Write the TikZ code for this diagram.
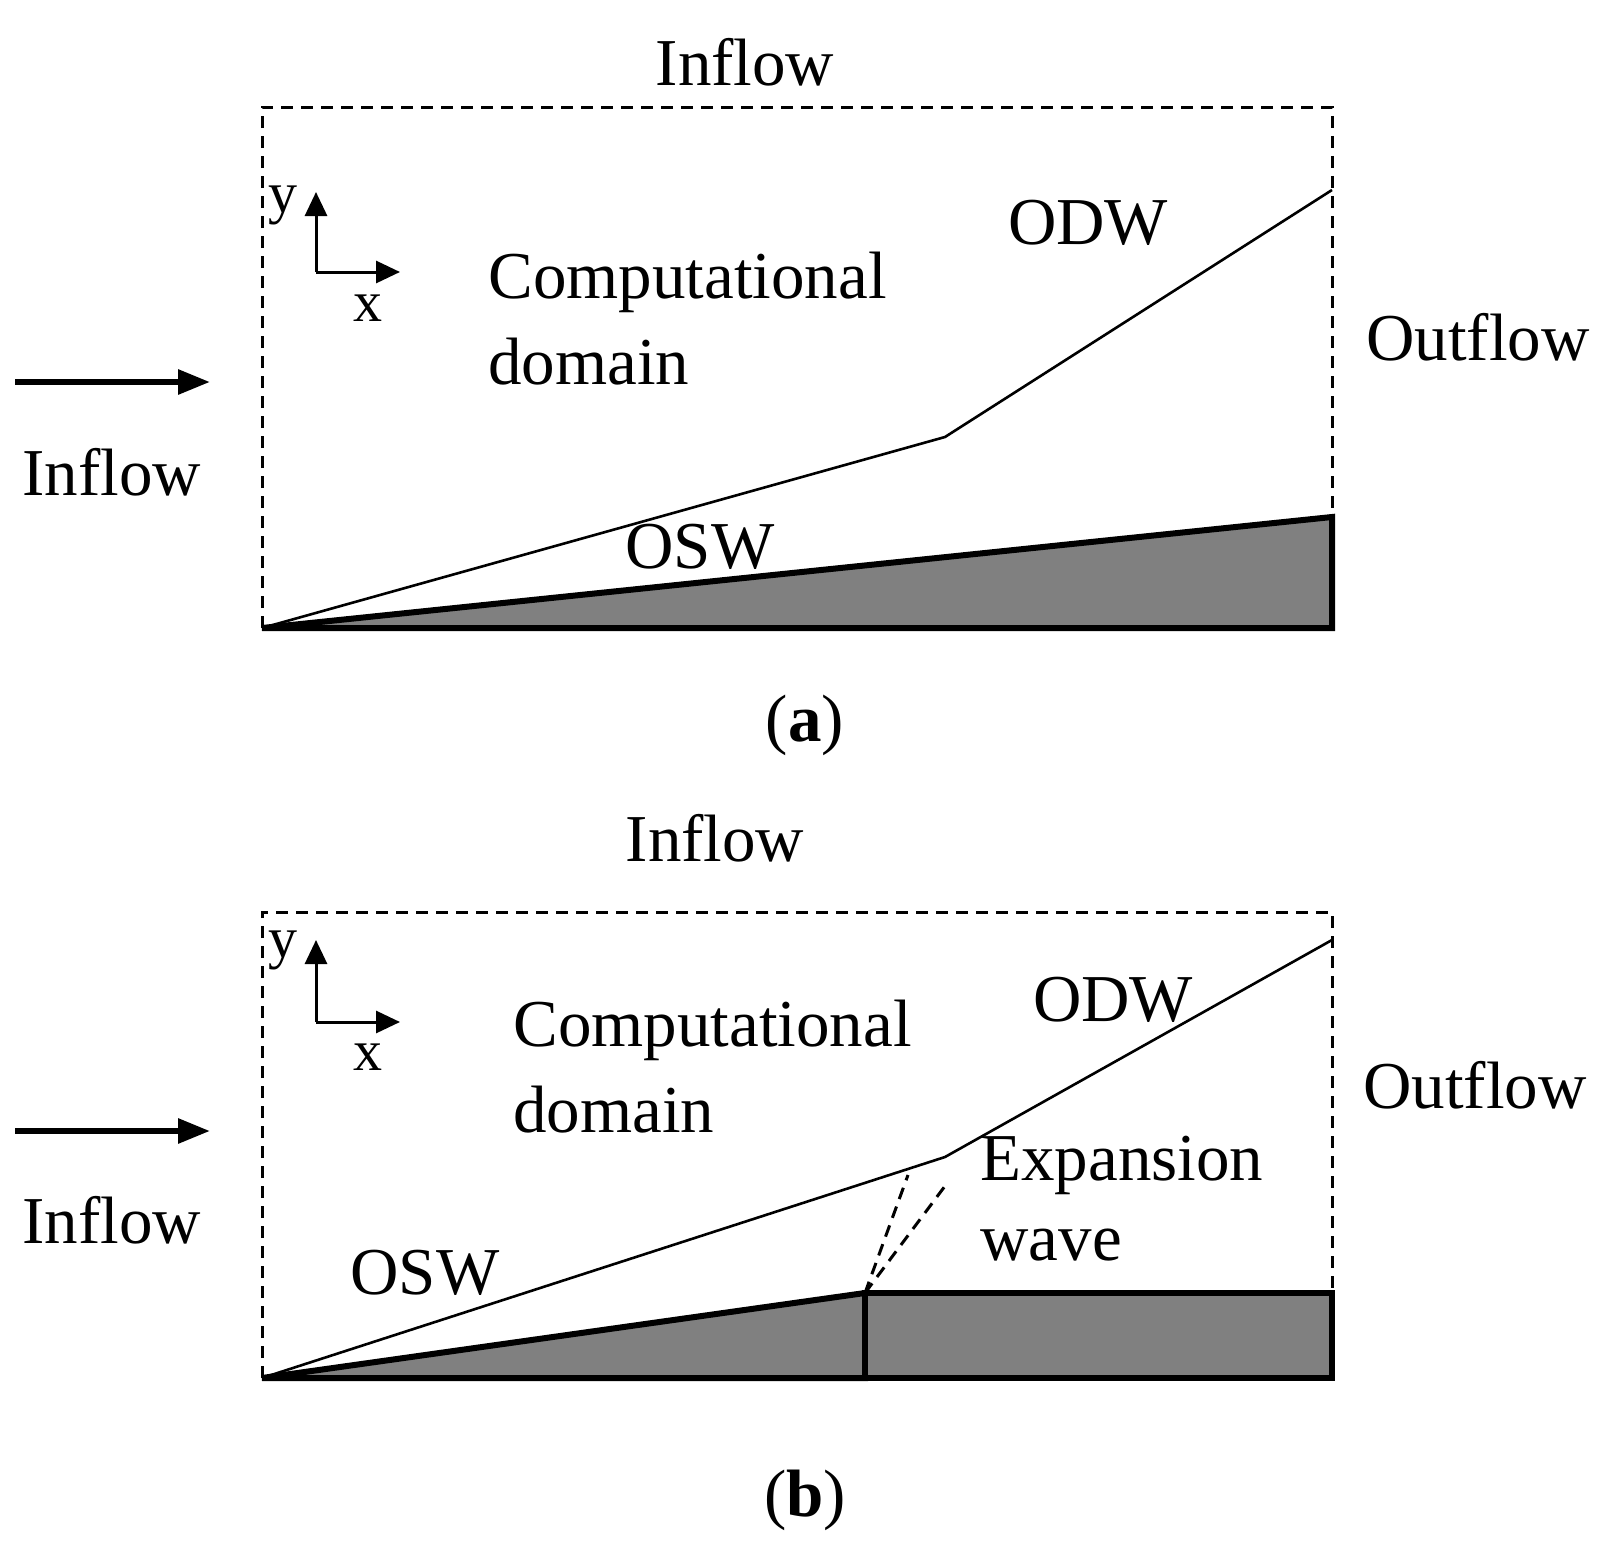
\documentclass[tikz,border=0pt]{standalone}
\usepackage{fontspec}
\setmainfont{Liberation Serif}
\usetikzlibrary{arrows.meta}
\begin{document}
\begin{tikzpicture}[x=0.5pt,y=-0.5pt,
 lbl/.style={font=\fontsize{33.5}{36}\selectfont,inner sep=0},
 sm/.style={font=\fontsize{29}{30}\selectfont,inner sep=0},
 box/.style={line width=1.5pt,dash pattern=on 6pt off 4pt},
 wall/.style={line width=3pt,fill=gray},
 shock/.style={line width=1.3pt},
 big/.style={line width=3pt,-{Triangle[length=16pt,width=12pt]}},
 ax/.style={line width=1.5pt,-{Triangle[length=12pt,width=11pt]}}]
\useasboundingbox (0,0) rectangle (1603,1563);
% (a)
\draw[box] (262,628) -- (262,107) -- (1332,107) -- (1332,517);
\draw[wall] (262,628) -- (1332,517) -- (1332,628) -- cycle;
\coordinate (a0) at (262,628); \coordinate (a1) at (945,437); \coordinate (a2) at (1332,190);
\draw[shock] (a0) -- (a1) -- (a2);
\coordinate (ao) at (316,272);
\draw[ax] (ao) -- (316,192); \draw[ax] (ao) -- (400,272);
\node[sm] at (283,205) {y}; \node[sm] at (368,308) {x};
\draw[big] (15,382) -- (210,382);
\node[lbl] at (112,472) {Inflow};
\node[lbl] at (745,62) {Inflow};
\node[lbl] at (1478,337) {Outflow};
\node[lbl,anchor=west] at (488,282) {Computational};
\node[lbl,anchor=west] at (488,362) {domain};
\node[lbl] at (1088,223) {ODW};
\node[lbl] at (700,547) {OSW};
\node[lbl] at (805,725) {(\textbf{a})};
% (b)
\draw[box] (262,1378) -- (262,912) -- (1332,912) -- (1332,1293);
\draw[wall] (262,1378) -- (865,1293) -- (865,1378) -- cycle;
\draw[wall] (865,1293) rectangle (1332,1378);
\coordinate (b0) at (262,1378); \coordinate (b1) at (945,1157); \coordinate (b2) at (1332,940);
\draw[shock] (b0) -- (b1) -- (b2);
\coordinate (bc) at (865,1293);
\draw[box] (bc) -- (908,1175); \draw[box] (bc) -- (948,1182);
\coordinate (bo) at (316,1022);
\draw[ax] (bo) -- (316,940); \draw[ax] (bo) -- (400,1022);
\node[sm] at (283,950) {y}; \node[sm] at (368,1057) {x};
\draw[big] (15,1131) -- (210,1131);
\node[lbl] at (112,1220) {Inflow};
\node[lbl] at (715,838) {Inflow};
\node[lbl] at (1475,1085) {Outflow};
\node[lbl,anchor=west] at (513,1030) {Computational};
\node[lbl,anchor=west] at (513,1110) {domain};
\node[lbl] at (1113,1000) {ODW};
\node[lbl] at (425,1273) {OSW};
\node[lbl,anchor=west] at (980,1165) {Expansion};
\node[lbl,anchor=west] at (980,1245) {wave};
\node[lbl] at (805,1500) {(\textbf{b})};
\end{tikzpicture}
\end{document}
